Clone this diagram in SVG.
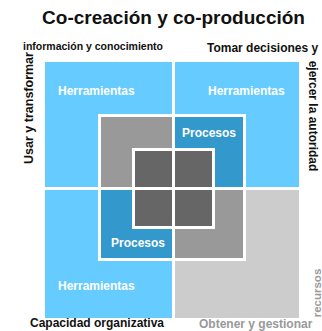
<svg xmlns="http://www.w3.org/2000/svg" width="322" height="331" viewBox="0 0 322 331">
<style>
text{font-family:"Liberation Sans",Arial,sans-serif;font-weight:bold}
.b{stroke:#fff;stroke-width:3}
.lb{fill:#66ccff}
.pb{fill:#3399cc}
.mg{fill:#999999}
.dg{fill:#666666}
.lg{fill:#cccccc}
.w{fill:#fff;font-size:12px}
.k{fill:#111;font-size:12px}
.g{fill:#999;font-size:12px}
</style>
<rect width="322" height="331" fill="#fff"/>
<text x="173.5" y="24" text-anchor="middle" style="font-size:19px;fill:#111">Co-creación y co-producción</text>
<g id="q-tl">
<rect class="b lb" x="43.5" y="60.5" width="130" height="128"/>
<rect class="b mg" x="99.5" y="115.5" width="74" height="73"/>
<rect class="b dg" x="133.5" y="149.5" width="40" height="39"/>
<text class="w" x="58" y="95">Herramientas</text>
</g>
<g id="q-tr">
<rect class="b lb" x="173.5" y="60.5" width="127" height="128"/>
<rect class="b pb" x="173.5" y="115.5" width="71" height="73"/>
<rect class="b dg" x="173.5" y="149.5" width="40" height="39"/>
<text class="w" x="208" y="95">Herramientas</text>
<text class="w" x="182" y="137">Procesos</text>
</g>
<g id="q-bl">
<rect class="b lb" x="43.5" y="188.5" width="130" height="131"/>
<rect class="b pb" x="99.5" y="188.5" width="74" height="71"/>
<rect class="b dg" x="133.5" y="188.5" width="40" height="39"/>
<text class="w" x="58" y="290">Herramientas</text>
<text class="w" x="111" y="247">Procesos</text>
</g>
<g id="q-br">
<rect class="b lg" x="173.5" y="188.5" width="127" height="131"/>
<rect class="b mg" x="173.5" y="188.5" width="71" height="71"/>
<rect class="b dg" x="173.5" y="188.5" width="40" height="39"/>
</g>
<g id="labels">
<text x="23" y="50" style="font-size:10.5px;fill:#111">información y conocimiento</text>
<text transform="translate(33,108) rotate(-90)" text-anchor="middle" style="font-size:12.5px;fill:#111">Usar y transformar</text>
<text class="k" x="207" y="52">Tomar decisiones y</text>
<text class="k" transform="translate(309,116) rotate(90)" text-anchor="middle">ejercer la autoridad</text>
<text class="k" x="30" y="327">Capacidad organizativa</text>
<text class="g" x="199" y="328">Obtener y gestionar</text>
<text transform="translate(321,293) rotate(-90)" text-anchor="middle" style="font-size:11.5px;fill:#999">recursos</text>
</g>
</svg>
